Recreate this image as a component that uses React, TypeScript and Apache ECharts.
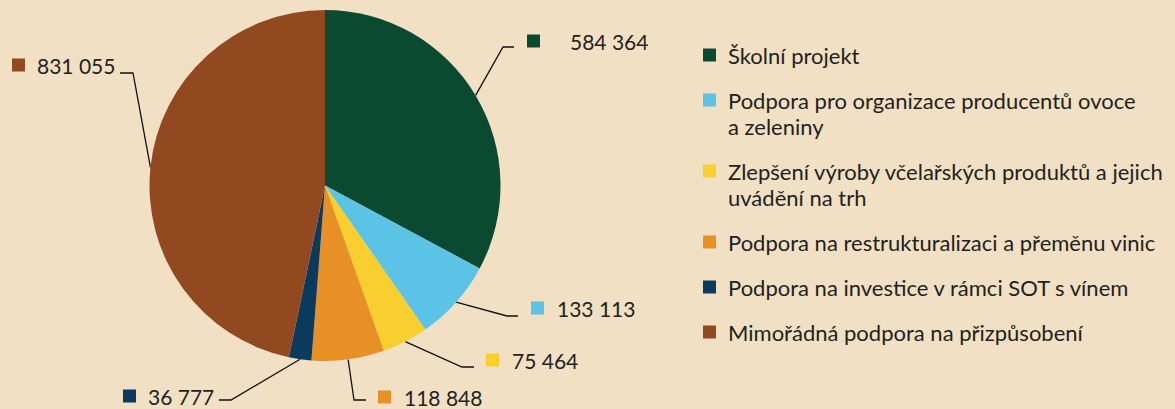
import React, { useEffect, useRef } from "react";
import * as echarts from "echarts";

const categories = [
  "Školní projekt",
  "Podpora pro organizace producentů ovoce\na zeleniny",
  "Zlepšení výroby včelařských produktů a jejich\nuvádění na trh",
  "Podpora na restrukturalizaci a přeměnu vinic",
  "Podpora na investice v rámci SOT s vínem",
  "Mimořádná podpora na přizpůsobení",
];
const values = [584364, 133113, 75464, 118848, 36777, 831055];
const colors = ["#0a4a31", "#5bc4e6", "#f8cf2f", "#e69026", "#0b3a5f", "#924920"];

// label placement (annotation layout): label anchor and leader-line bend points
const labelPos = [
  { x: 527, y: 41, bend: [503, 47], end: [514, 47], gap: 30 },
  { x: 531, y: 308, bend: [507, 316], end: [518, 316], gap: 13 },
  { x: 486, y: 360, bend: [462, 367], end: [474, 367], gap: 13 },
  { x: 378, y: 397, bend: [354, 400], end: [366, 400], gap: 13 },
  { x: 123, y: 396, bend: [231, 400], end: [219, 400], gap: 12 },
  { x: 12, y: 65, bend: [133, 73], end: [120, 73], gap: 12 },
];

const FONT = "Lato, 'Open Sans', sans-serif";
const fmt = (v: number) => String(v).replace(/\B(?=(\d{3})+(?!\d))/g, " ");

export default function App() {
  const ref = useRef<HTMLDivElement>(null);
  useEffect(() => {
    if (!ref.current) return;
    const chart = echarts.init(ref.current, undefined, { renderer: "svg" });

    const rich: Record<string, any> = {};
    colors.forEach((c, i) => {
      rich["s" + i] = { width: 13, height: 13, backgroundColor: c, verticalAlign: "middle" };
      rich["t" + i] = {
        fontSize: 21,
        fontFamily: FONT,
        color: "#231f20",
        padding: [0, 0, 0, labelPos[i].gap],
        verticalAlign: "middle",
      };
    });

    // legend built from categories
    const legendEls: any[] = [];
    let yCenter = 55;
    const LH = 26;
    categories.forEach((name, i) => {
      const lines = name.split("\n").length;
      legendEls.push({
        type: "rect",
        shape: { x: 703, y: yCenter - 6.5, width: 13, height: 13 },
        style: { fill: colors[i] },
      });
      legendEls.push({
        type: "text",
        x: 728,
        y: yCenter - LH / 2,
        style: {
          text: name,
          font: `22px ${FONT}`,
          fill: "#231f20",
          lineHeight: LH,
          verticalAlign: "top",
          align: "left",
        },
      });
      yCenter += (lines - 1) * LH + 45;
    });

    chart.setOption({
      animation: false,
      backgroundColor: "#f1e0c4",
      graphic: legendEls,
      series: [
        {
          type: "pie",
          center: [325, 185.5],
          radius: 175.5,
          startAngle: 90,
          clockwise: true,
          avoidLabelOverlap: false,
          silent: true,
          itemStyle: { borderWidth: 0 },
          label: {
            show: true,
            position: "outside",
            formatter: (p: any) => `{s${p.dataIndex}|}{t${p.dataIndex}|${fmt(p.value)}}`,
            rich,
          },
          labelLine: {
            show: true,
            lineStyle: { color: "#111", width: 1.3 },
          },
          labelLayout: (p: any) => {
            const lp = labelPos[p.dataIndex];
            const start = p.labelLinePoints ? p.labelLinePoints[0] : lp.bend;
            return {
              x: lp.x,
              y: lp.y,
              align: "left",
              verticalAlign: "middle",
              labelLinePoints: [start, lp.bend, lp.end],
            };
          },
          data: categories.map((n, i) => ({
            name: n,
            value: values[i],
            itemStyle: { color: colors[i] },
          })),
        },
      ],
    });
    return () => chart.dispose();
  }, []);
  return (
    <div
      ref={ref}
      style={{ position: "fixed", left: 0, top: 0, width: 1175, height: 409 }}
    />
  );
}
